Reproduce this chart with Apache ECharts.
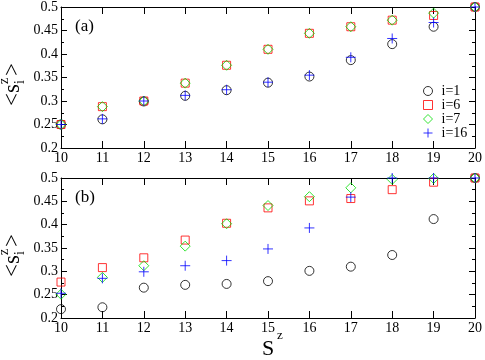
<!DOCTYPE html>
<html>
<head>
<meta charset="utf-8">
<style>
  html, body { margin: 0; padding: 0; background: #fff; }
  #chart { width: 485px; height: 360px; }
</style>
<script src="https://cdn.jsdelivr.net/npm/echarts@6/dist/echarts.min.js"></script>
</head>
<body>
<div id="chart"></div>
<script>
const sz = [10, 11, 12, 13, 14, 15, 16, 17, 18, 19, 20];
const names = ['i=1', 'i=6', 'i=7', 'i=16'];

// panel (a)
const a1 = [0.25, 0.261, 0.299, 0.311, 0.323, 0.339, 0.352, 0.387, 0.421, 0.458, 0.5];
const a6 = [0.25, 0.288, 0.3, 0.338, 0.376, 0.41, 0.444, 0.458, 0.472, 0.482, 0.5];
const a7 = [0.25, 0.288, 0.3, 0.338, 0.376, 0.41, 0.444, 0.458, 0.472, 0.487, 0.5];
const a16 = [0.25, 0.262, 0.3, 0.312, 0.324, 0.34, 0.355, 0.393, 0.433, 0.467, 0.5];

// panel (b)
const b1 = [0.219, 0.223, 0.265, 0.271, 0.273, 0.279, 0.301, 0.31, 0.335, 0.412, 0.5];
const b6 = [0.277, 0.308, 0.329, 0.367, 0.403, 0.436, 0.451, 0.456, 0.475, 0.491, 0.5];
const b7 = [0.251, 0.287, 0.312, 0.354, 0.402, 0.441, 0.46, 0.479, 0.497, 0.499, 0.5];
const b16 = [0.253, 0.285, 0.299, 0.312, 0.323, 0.348, 0.393, 0.459, 0.5, 0.5, 0.5];

const chart = echarts.init(document.getElementById('chart'));
const font = 'Liberation Serif';

const marks = [
    { symbol: 'circle', size: 9, color: '#000' },
    { symbol: 'rect', size: 8, color: '#ff0000' },
    { symbol: 'diamond', size: 10, color: '#00dd00' },
    { symbol: 'path://M5,0 L5,10 M0,5 L10,5', size: 10, color: '#0000ff' }
];

const pair = (ys) => sz.map((x, i) => [x, ys[i]]);

const xAx = (grid, pos, labels) => ({
    type: 'value', gridIndex: grid, position: pos,
    min: 10, max: 20, interval: 1,
    axisLine: { show: true, onZero: false, lineStyle: { color: '#000', width: 1 } },
    axisTick: { show: true, inside: true, length: 7, lineStyle: { color: '#000' } },
    axisLabel: { show: labels, margin: 3, color: '#000', fontFamily: font, fontSize: 14 },
    splitLine: { show: false }
});

const yAx = (grid, pos, labels) => ({
    type: 'value', gridIndex: grid, position: pos,
    min: 0.2, max: 0.5, interval: 0.05,
    axisLine: { show: true, onZero: false, lineStyle: { color: '#000', width: 1 } },
    axisTick: { show: true, inside: true, length: 6, lineStyle: { color: '#000' } },
    minorTick: { show: true, splitNumber: 2, length: 3, lineStyle: { color: '#000' } },
    axisLabel: {
        show: labels, margin: 3, color: '#000', fontFamily: font, fontSize: 14,
        formatter: (v) => String(parseFloat(v.toFixed(3)))
    },
    splitLine: { show: false }
});

const series = [];
[[a1, a6, a7, a16], [b1, b6, b7, b16]].forEach((set, g) => {
    set.forEach((ys, k) => {
        series.push({
            name: names[k],
            type: 'scatter',
            xAxisIndex: g * 2,
            yAxisIndex: g * 2,
            clip: false,
            symbol: marks[k].symbol,
            symbolSize: marks[k].size,
            itemStyle: { color: 'transparent', borderColor: marks[k].color, borderWidth: 1 },
            data: pair(ys)
        });
    });
});

const ylabel = (cy) => ({
    type: 'group', x: 13, y: cy, rotation: Math.PI / 2,
    children: [
        { type: 'text', x: -26, y: 0, style: { text: '<s', font: '23px ' + font, fill: '#000', align: 'left', verticalAlign: 'middle' } },
        { type: 'text', x: -4, y: 7, style: { text: 'i', font: '14px ' + font, fill: '#000', align: 'left', verticalAlign: 'middle' } },
        { type: 'text', x: -4, y: -9, style: { text: 'z', font: '14px ' + font, fill: '#000', align: 'left', verticalAlign: 'middle' } },
        { type: 'text', x: 4, y: 0, style: { text: '>', font: '23px ' + font, fill: '#000', align: 'left', verticalAlign: 'middle' } }
    ]
});

chart.setOption({
    animation: false,
    grid: [
        { left: 61, top: 6, width: 416, height: 142 },
        { left: 61, top: 178, width: 416, height: 140 }
    ],
    xAxis: [xAx(0, 'bottom', true), xAx(0, 'top', false), xAx(1, 'bottom', true), xAx(1, 'top', false)],
    yAxis: [yAx(0, 'left', true), yAx(0, 'right', false), yAx(1, 'left', true), yAx(1, 'right', false)],
    legend: {
        orient: 'vertical', left: 418, top: 79,
        itemWidth: 9, itemHeight: 9, itemGap: 0,
        data: names,
        itemStyle: { borderWidth: 1 },
        textStyle: { fontFamily: font, fontSize: 14, lineHeight: 14, color: '#000', padding: [0, 0, 0, 4] }
    },
    graphic: [
        ylabel(80),
        ylabel(251),
        { type: 'text', x: 75, y: 27, style: { text: '(a)', font: '17px ' + font, fill: '#000', verticalAlign: 'middle' } },
        { type: 'text', x: 75, y: 198, style: { text: '(b)', font: '17px ' + font, fill: '#000', verticalAlign: 'middle' } },
        { type: 'text', x: 262, y: 349, style: { text: 'S', font: '22px ' + font, fill: '#000', verticalAlign: 'middle' } },
        { type: 'text', x: 277, y: 336, style: { text: 'z', font: '13px ' + font, fill: '#000', verticalAlign: 'middle' } }
    ],
    series: series
});
</script>
</body>
</html>
